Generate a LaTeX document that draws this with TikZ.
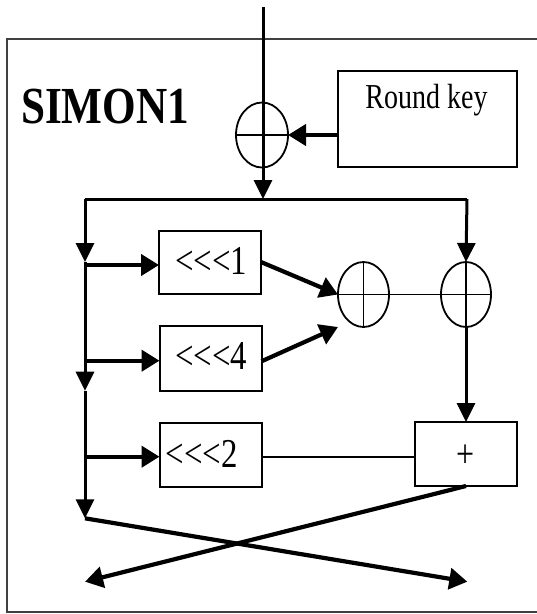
\documentclass[tikz,border=0pt]{standalone}
\usepackage{fontspec}
\setmainfont{Liberation Serif}
\usetikzlibrary{arrows.meta,shapes.geometric}
\begin{document}
\begin{tikzpicture}[x=1pt,y=-1pt,
  box/.style={draw, line width=2pt, minimum width=102pt, minimum height=64pt, inner sep=0pt, outer sep=0pt},
  xorop/.style={draw, ellipse, line width=1.8pt, minimum width=52pt, minimum height=65pt, inner sep=0pt, outer sep=0pt},
  busline/.style={line width=3pt},
  busarrow/.style={line width=3pt, -{Triangle[length=19pt,width=18pt]}},
  fatarrow/.style={line width=4.2pt, -{Triangle[length=18pt,width=21pt]}},
  thinline/.style={line width=1.8pt},
  shiftlbl/.style={inner sep=0pt, font=\fontsize{41}{44}\selectfont},
  frame/.style={line width=1.8pt, draw=black!75}
]
\useasboundingbox (0,0) rectangle (537,614);

% outer frame, open on the right
\draw[frame] (537,39) -- (7,39) -- (7,612) -- (537,612);

% title
\node[inner sep=0pt, anchor=base] (title) at (105,123.3)
  {\fontsize{52}{56}\selectfont\bfseries\scalebox{0.83}[1]{SIMON1}};

% round key stage
\node[xorop] (x0) at (262,135) {};
\node[draw, line width=2pt, minimum width=179pt, minimum height=96pt, inner sep=0pt] (rk) at (427.5,119) {};
\node[inner sep=0pt, anchor=base, font=\fontsize{35}{38}\selectfont] (rklbl) at (426.5,108.3) {\scalebox{0.8}[1]{Round key}};
\coordinate (in) at (263,7);
\coordinate (l0) at (85,199);
\coordinate (r0) at (467,199);
\coordinate (j0) at (263,199);
\draw[thinline] (x0.west) -- (x0.east);
\draw[busarrow] (in) -- (j0);
\draw[fatarrow] (rk.west |- x0.east) -- (x0.east);
\draw[busline] (l0) -- (r0);

% rotation boxes (braces keep the < signs from forming guillemets)
\node[box, minimum height=63pt] (b1) at (210,262) {};
\node[shiftlbl] (b1lbl) at (211,261) {\scalebox{0.8}[1]{<{}<{}<1}};
\node[box, minimum height=65pt] (b4) at (210.5,358.3) {};
\node[shiftlbl] (b4lbl) at (211,356.5) {\scalebox{0.8}[1]{<{}<{}<4}};
\node[box] (b2) at (210.5,454.5) {};
\node[shiftlbl] (b2lbl) at (201.7,453.5) {\scalebox{0.8}[1]{<{}<{}<2}};

% xor operators and modular adder
\node[xorop, minimum width=51pt] (x1) at (363.5,294.5) {};
\node[xorop, minimum width=50pt] (x2) at (466,294.5) {};
\node[box] (p) at (466,454) {};
\node[inner sep=0pt, font=\fontsize{40}{42}\selectfont] (plbl) at (466,456.3) {\scalebox{0.8}[1]{+}};
\draw[thinline] (x1.north) -- (x1.south) (x2.north) -- (x2.south);
\draw[thinline] (x1.west) -- (x2.east);

% left bus with branches
\coordinate (d1) at (85,262);
\coordinate (d2) at (85,390.7);
\coordinate (d3) at (85,518.3);
\coordinate (br1) at (85,265);
\coordinate (br4) at (85,360.7);
\coordinate (br2) at (85,456.7);
\draw[busarrow] (l0) -- (d1);
\draw[busarrow] (d1) -- (d2);
\draw[busarrow] (d2) -- (d3);
\draw[fatarrow] (br1) -- (br1 -| b1.west);
\draw[fatarrow] (br4) -- (br4 -| b4.west);
\draw[fatarrow] (br2) -- (br2 -| b2.west);

% into the xor chain
\draw[fatarrow] (b1.east) -- (x1.west);
\draw[fatarrow] ([yshift=-3pt]b4.east) -- (x1.west |- x1.south);
\draw[busarrow] (r0) -- (x2.north);
\draw[busarrow] (x2.south) -- (p.north);
\draw[thinline] (br2 -| b2.east) -- (br2 -| p.west);

% swap of the two halves
\coordinate (outl) at (85,581.7);
\coordinate (outr) at (467.3,581.7);
\draw[fatarrow] (d3) -- (outr);
\draw[fatarrow] (p.south) -- (outl);
\end{tikzpicture}
\end{document}
